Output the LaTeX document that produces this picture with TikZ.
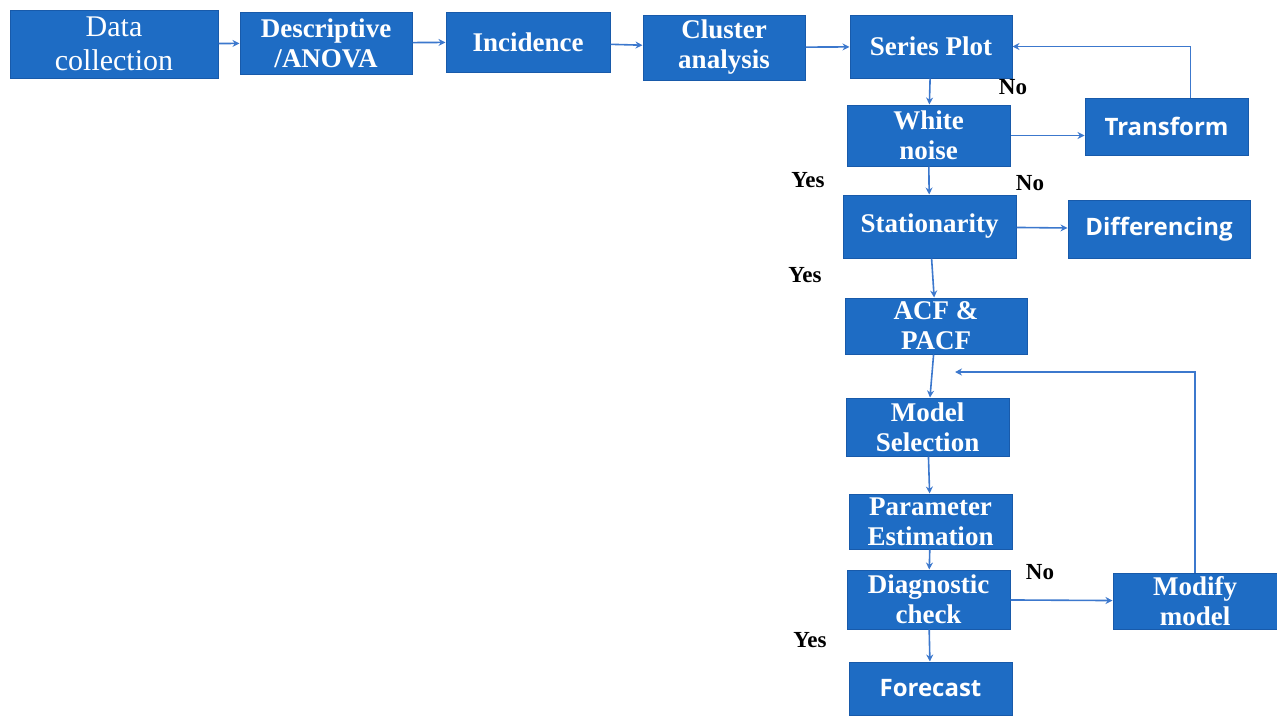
\documentclass[tikz,border=0pt]{standalone}
\usepackage{fontspec}
\setmainfont{Liberation Serif}
\newfontfamily\boxsans{Open Sans}
\usetikzlibrary{arrows.meta}
\definecolor{boxblue}{RGB}{30,108,196}
\definecolor{edgeblue}{RGB}{24,90,170}
\definecolor{arrowblue}{RGB}{60,120,205}
\begin{document}
\begin{tikzpicture}[x=1pt,y=-1pt,
  box/.style={rectangle, fill=boxblue, draw=edgeblue, line width=1pt, text=white, align=center, inner sep=0pt, font=\fontsize{27}{30}\selectfont\bfseries},
  sbox/.style={box, font=\fontsize{24}{28}\selectfont\boxsans\bfseries},
  conn/.style={draw=arrowblue, line width=1.6pt, -{Stealth[length=7pt,width=7pt]}},
  lbl/.style={font=\fontsize{23}{25}\selectfont\bfseries, text=black, inner sep=0pt}
]
\useasboundingbox (0,0) rectangle (1277,715);
\node[box, minimum width=208pt, minimum height=68pt, font=\fontsize{30}{34}\selectfont] (dc) at (114,44) {Data\\collection};
\node[box, minimum width=172pt, minimum height=62pt] (desc) at (326,43) {Descriptive\\/ANOVA};
\node[box, minimum width=164pt, minimum height=60pt] (inc) at (528,42) {Incidence};
\node[box, minimum width=162pt, minimum height=65pt] (clu) at (724,47.5) {Cluster\\analysis};
\node[box, minimum width=162pt, minimum height=63pt] (sp) at (931,46.5) {Series Plot};
\node[box, minimum width=163pt, minimum height=61pt] (wn) at (928.5,135.5) {White\\noise};
\node[sbox, minimum width=163pt, minimum height=57pt] (tr) at (1166.5,126.5) {Transform};
\node[box, minimum width=173pt, minimum height=63pt] (st) at (929.5,226.5) {Stationarity};
\node[sbox, minimum width=182pt, minimum height=58pt] (di) at (1159,229) {Differencing};
\node[box, minimum width=182pt, minimum height=56pt] (acf) at (936,326) {ACF \&\\PACF};
\node[box, minimum width=163pt, minimum height=58pt] (ms) at (927.5,427) {Model\\Selection};
\node[box, minimum width=163pt, minimum height=55pt] (pe) at (930.5,521.5) {Parameter\\Estimation};
\node[box, minimum width=163pt, minimum height=59pt] (dg) at (928.5,599.5) {Diagnostic\\check};
\node[box, minimum width=164pt, minimum height=56pt] (mm) at (1195,601) {Modify\\model};
\node[sbox, minimum width=163pt, minimum height=53pt] (fc) at (930.5,688.5) {Forecast};

\coordinate (back) at (955,372);

\draw[conn] (dc) -- (desc);
\draw[conn] (desc) -- (inc);
\draw[conn] (inc) -- (clu);
\draw[conn] (clu) -- (sp);
\draw[conn] (sp) -- (wn);
\draw[conn] (wn.east) -- (tr.west |- wn.east);
\draw[conn] ([xshift=24pt]tr.north) |- (sp.east);
\draw[conn] (wn) -- (st);
\draw[conn] (st) -- (di);
\draw[conn] (st) -- (acf);
\draw[conn] (acf) -- (ms);
\draw[conn] (ms) -- (pe);
\draw[conn] (pe) -- (dg);
\draw[conn] (dg) -- (mm);
\draw[conn] (dg) -- (fc);
\draw[conn] (mm.north) |- (back);

\node[lbl] (l1) at (1013,87) {No};
\node[lbl] (l2) at (808,180) {Yes};
\node[lbl] (l3) at (1030,183) {No};
\node[lbl] (l4) at (805,275) {Yes};
\node[lbl] (l5) at (1040,572) {No};
\node[lbl] (l6) at (810,640) {Yes};
\end{tikzpicture}
\end{document}
